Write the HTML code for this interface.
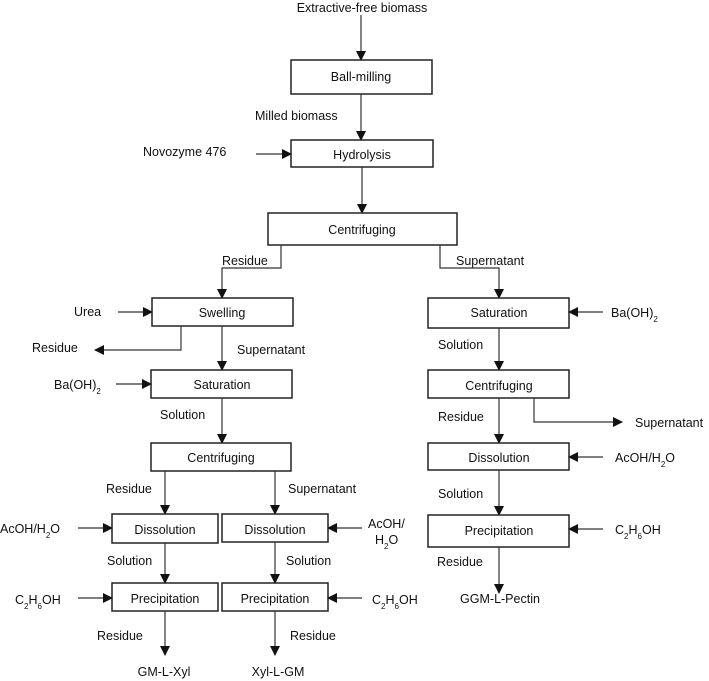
<!DOCTYPE html>
<html><head><meta charset="utf-8"><style>
html,body{margin:0;padding:0;background:#fff;}
svg{display:block;}
text{font-family:"Liberation Sans",Arial,sans-serif;font-size:12.5px;fill:#111;}
.s{font-size:8px;}
rect{fill:#fff;stroke:#222;stroke-width:1.5;}
line,polyline{stroke:#333;stroke-width:1.2;fill:none;}
</style></head><body>
<svg width="709" height="681" viewBox="0 0 709 681" xmlns="http://www.w3.org/2000/svg">
<defs><marker id="a" markerWidth="10" markerHeight="10" refX="9" refY="5" orient="auto" markerUnits="userSpaceOnUse"><path d="M0,0 L10,5 L0,10 z" fill="#111"/></marker></defs>

<!-- top chain -->
<text x="362" y="12" text-anchor="middle">Extractive-free biomass</text>
<line x1="361" y1="15" x2="361" y2="60" marker-end="url(#a)"/>
<rect x="291" y="60" width="141" height="34"/>
<text x="361" y="81" text-anchor="middle">Ball-milling</text>
<text x="255" y="120">Milled biomass</text>
<line x1="361" y1="94" x2="361" y2="140" marker-end="url(#a)"/>
<rect x="291" y="140" width="142" height="27"/>
<text x="362" y="159" text-anchor="middle">Hydrolysis</text>
<text x="143" y="156">Novozyme  476</text>
<line x1="256" y1="154" x2="291" y2="154" marker-end="url(#a)"/>
<line x1="362" y1="167" x2="362" y2="213" marker-end="url(#a)"/>
<rect x="268" y="213" width="189" height="32"/>
<text x="362" y="234" text-anchor="middle">Centrifuging</text>

<!-- left branch -->
<polyline points="281,245 281,268 222,268 222,298" marker-end="url(#a)"/>
<text x="222" y="265">Residue</text>
<rect x="152" y="298" width="141" height="28"/>
<text x="222" y="317" text-anchor="middle">Swelling</text>
<text x="74" y="316">Urea</text>
<line x1="118" y1="312" x2="152" y2="312" marker-end="url(#a)"/>
<polyline points="181,326 181,350 95,350" marker-end="url(#a)"/>
<text x="32" y="352">Residue</text>
<line x1="222" y1="326" x2="222" y2="370" marker-end="url(#a)"/>
<text x="237" y="354">Supernatant</text>
<rect x="151" y="370" width="141" height="28"/>
<text x="222" y="389" text-anchor="middle">Saturation</text>
<text x="54" y="389">Ba(OH)<tspan class="s" dy="5">2</tspan></text>
<line x1="116" y1="384" x2="151" y2="384" marker-end="url(#a)"/>
<text x="160" y="419">Solution</text>
<line x1="222" y1="398" x2="222" y2="443" marker-end="url(#a)"/>
<rect x="151" y="443" width="140" height="28"/>
<text x="221" y="462" text-anchor="middle">Centrifuging</text>
<line x1="165" y1="471" x2="165" y2="514" marker-end="url(#a)"/>
<line x1="275" y1="471" x2="275" y2="514" marker-end="url(#a)"/>
<text x="106" y="493">Residue</text>
<text x="288" y="493">Supernatant</text>

<rect x="112" y="514" width="106" height="29"/>
<text x="165" y="534" text-anchor="middle">Dissolution</text>
<rect x="222" y="514" width="106" height="28"/>
<text x="275" y="534" text-anchor="middle">Dissolution</text>
<text x="0" y="533">AcOH/H<tspan class="s" dy="5">2</tspan><tspan dy="-5">O</tspan></text>
<line x1="78" y1="528" x2="112" y2="528" marker-end="url(#a)"/>
<text x="368" y="528">AcOH/</text>
<text x="375" y="544">H<tspan class="s" dy="5">2</tspan><tspan dy="-5">O</tspan></text>
<line x1="362" y1="528" x2="328" y2="528" marker-end="url(#a)"/>
<text x="107" y="565">Solution</text>
<text x="286" y="565">Solution</text>
<line x1="165" y1="543" x2="165" y2="583" marker-end="url(#a)"/>
<line x1="275" y1="542" x2="275" y2="583" marker-end="url(#a)"/>

<rect x="112" y="583" width="106" height="28"/>
<text x="165" y="603" text-anchor="middle">Precipitation</text>
<rect x="222" y="583" width="106" height="28"/>
<text x="275" y="603" text-anchor="middle">Precipitation</text>
<text x="15" y="604">C<tspan class="s" dy="5">2</tspan><tspan dy="-5">H</tspan><tspan class="s" dy="5">6</tspan><tspan dy="-5">OH</tspan></text>
<line x1="78" y1="598" x2="112" y2="598" marker-end="url(#a)"/>
<text x="372" y="604">C<tspan class="s" dy="5">2</tspan><tspan dy="-5">H</tspan><tspan class="s" dy="5">6</tspan><tspan dy="-5">OH</tspan></text>
<line x1="362" y1="598" x2="328" y2="598" marker-end="url(#a)"/>
<text x="97" y="640">Residue</text>
<text x="290" y="640">Residue</text>
<line x1="165" y1="611" x2="165" y2="655" marker-end="url(#a)"/>
<line x1="275" y1="611" x2="275" y2="655" marker-end="url(#a)"/>
<text x="164" y="676" text-anchor="middle">GM-L-Xyl</text>
<text x="278" y="676" text-anchor="middle">Xyl-L-GM</text>

<!-- right branch -->
<polyline points="440,245 440,268 499,268 499,298" marker-end="url(#a)"/>
<text x="456" y="265">Supernatant</text>
<rect x="428" y="298" width="141" height="30"/>
<text x="499" y="317" text-anchor="middle">Saturation</text>
<text x="611" y="317">Ba(OH)<tspan class="s" dy="5">2</tspan></text>
<line x1="603" y1="312" x2="569" y2="312" marker-end="url(#a)"/>
<text x="438" y="349">Solution</text>
<line x1="499" y1="328" x2="499" y2="370" marker-end="url(#a)"/>
<rect x="428" y="370" width="141" height="28"/>
<text x="499" y="390" text-anchor="middle">Centrifuging</text>
<text x="438" y="421">Residue</text>
<line x1="499" y1="398" x2="499" y2="443" marker-end="url(#a)"/>
<polyline points="534,398 534,422 622,422" marker-end="url(#a)"/>
<text x="635" y="427">Supernatant</text>
<rect x="428" y="443" width="141" height="27"/>
<text x="499" y="462" text-anchor="middle">Dissolution</text>
<text x="615" y="462">AcOH/H<tspan class="s" dy="5">2</tspan><tspan dy="-5">O</tspan></text>
<line x1="603" y1="457" x2="569" y2="457" marker-end="url(#a)"/>
<text x="438" y="498">Solution</text>
<line x1="499" y1="470" x2="499" y2="515" marker-end="url(#a)"/>
<rect x="428" y="515" width="141" height="32"/>
<text x="499" y="535" text-anchor="middle">Precipitation</text>
<text x="615" y="534">C<tspan class="s" dy="5">2</tspan><tspan dy="-5">H</tspan><tspan class="s" dy="5">6</tspan><tspan dy="-5">OH</tspan></text>
<line x1="603" y1="529" x2="569" y2="529" marker-end="url(#a)"/>
<text x="437" y="566">Residue</text>
<line x1="499" y1="547" x2="499" y2="593" marker-end="url(#a)"/>
<text x="500" y="603" text-anchor="middle">GGM-L-Pectin</text>
</svg>
</body></html>
